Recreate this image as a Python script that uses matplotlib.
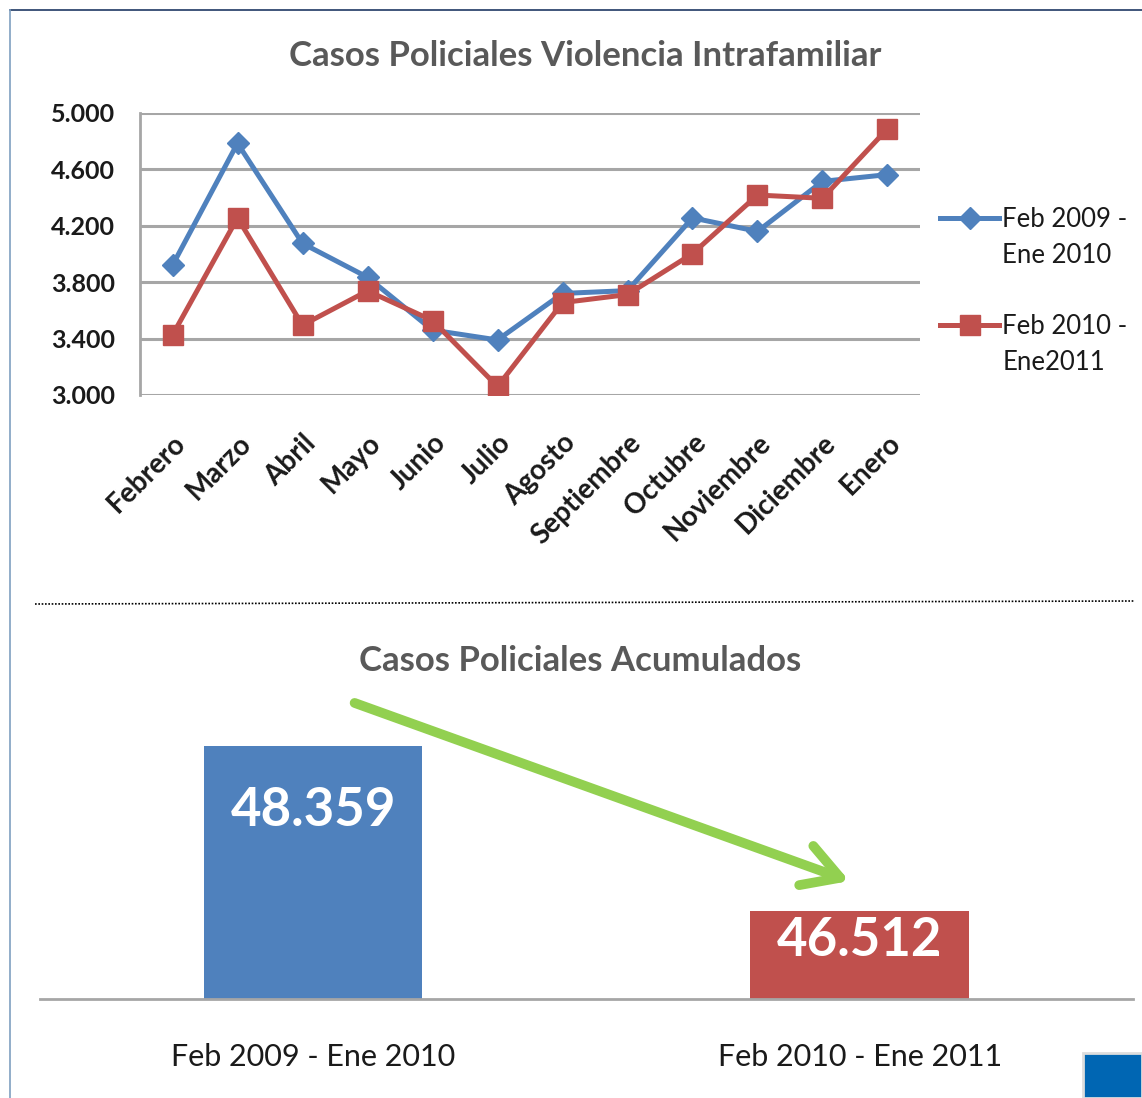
import matplotlib
matplotlib.use("Agg")
import matplotlib.pyplot as plt
from matplotlib.ticker import FuncFormatter
from matplotlib.lines import Line2D
from matplotlib.patches import Rectangle

plt.rcParams['font.family'] = ['Lato', 'DejaVu Sans']

# data
meses = ['Febrero', 'Marzo', 'Abril', 'Mayo', 'Junio', 'Julio', 'Agosto',
         'Septiembre', 'Octubre', 'Noviembre', 'Diciembre', 'Enero']
casos_0910 = [3920, 4785, 4075, 3835, 3460, 3390, 3720, 3740, 4256, 4160, 4515, 4563]
casos_1011 = [3425, 4256, 3495, 3738, 3528, 3060, 3655, 3712, 4002, 4418, 4395, 4888]
serie_labels = [['Feb 2009 -', 'Ene 2010'], ['Feb 2010 -', 'Ene2011']]

periodos = ['Feb 2009 - Ene 2010', 'Feb 2010 - Ene 2011']
acumulados = [48359, 46512]

blue = '#4F81BD'
red = '#C0504D'
grid_c = '#A6A6A6'
title_c = '#595959'

fig = plt.figure(figsize=(11.42, 10.98), dpi=100)

# ---- top chart
ax = fig.add_axes([0.1226, 0.6403, 0.683, 0.2568])
x = range(len(meses))
l1, = ax.plot(x, casos_0910, color=blue, lw=3.6, marker='D', ms=11)
l2, = ax.plot(x, casos_1011, color=red, lw=3.6, marker='s', ms=14)
ax.set_xlim(-0.5, len(meses) - 0.5)
ax.set_ylim(3000, 5000)
ax.set_yticks([3000, 3400, 3800, 4200, 4600, 5000])
ax.yaxis.set_major_formatter(FuncFormatter(lambda v, p: f'{int(v):,}'.replace(',', '.')))
ax.grid(axis='y', color=grid_c, lw=2.2)
ax.set_axisbelow(True)
for s in ['top', 'right', 'bottom']:
    ax.spines[s].set_visible(False)
ax.spines['left'].set_color(grid_c)
ax.spines['left'].set_linewidth(2)
ax.tick_params(length=0, labelsize=18, colors='#1a1a1a', pad=18)
ax.tick_params(axis='x', pad=25)
ax.set_xticks(list(x))
ax.set_xticklabels(meses, rotation=45, ha='right', rotation_mode='anchor',
                   fontweight='bold', fontsize=20)
for lab in ax.get_yticklabels():
    lab.set_fontweight('bold')

# legend: each two-line label split into rows so the handle sits on the first line
blank = Line2D([], [], color='none')
ax.legend([l1, blank, blank, l2, blank],
          [serie_labels[0][0], serie_labels[0][1], '', serie_labels[1][0], serie_labels[1][1]],
          loc='upper left', bbox_to_anchor=(940 / 1142, 1 - 207 / 1098),
          bbox_transform=fig.transFigure, frameon=False, handlelength=2.3,
          handletextpad=0.12, labelspacing=0.42, borderpad=0, borderaxespad=0,
          prop={'family': 'Lato', 'size': 18.5}, labelcolor='#1a1a1a')

fig.text(0.512, 0.949, 'Casos Policiales Violencia Intrafamiliar', ha='center', va='center',
         fontsize=25, fontweight='bold', color=title_c)

# ---- bottom chart
ax2 = fig.add_axes([0.035, 0.0902, 0.957, 0.2723])
ax2.bar(range(len(periodos)), acumulados, width=0.40, color=[blue, red])
ax2.set_xlim(-0.5, 1.5)
ax2.set_ylim(45527, 48873)
ax2.set_yticks([])
ax2.set_xticks(range(len(periodos)))
ax2.set_xticklabels(periodos, fontsize=22, color='#1a1a1a')
ax2.tick_params(axis='x', length=0, pad=32)
for s in ['top', 'right', 'left']:
    ax2.spines[s].set_visible(False)
ax2.spines['bottom'].set_color(grid_c)
ax2.spines['bottom'].set_linewidth(2)
offsets = [-720, -330]
for i, v in enumerate(acumulados):
    ax2.text(i, v + offsets[i], f'{v:,}'.replace(',', '.'), ha='center', va='center',
             color='white', fontsize=38, fontweight='bold')

fig.text(0.508, 0.398, 'Casos Policiales Acumulados', ha='center', va='center',
         fontsize=25, fontweight='bold', color=title_c)

# green trend arrow
ax2.annotate('', xy=(852 / 1142, 1 - 882 / 1098), xytext=(352 / 1142, 1 - 702 / 1098),
             xycoords='figure fraction', textcoords='figure fraction',
             arrowprops=dict(arrowstyle='->,head_length=2.6,head_width=1.5',
                             color='#92D050', lw=7))

# decorations: frame, separator, corner square
fig.add_artist(Line2D([10 / 1142, 1], [1 - 10 / 1098] * 2, color='#1F3864', lw=1.2))
fig.add_artist(Line2D([10 / 1142] * 2, [0, 1 - 10 / 1098], color='#7F9FC0', lw=1.2))
fig.add_artist(Line2D([35 / 1142, 1135 / 1142], [1 - 604 / 1098, 1 - 601 / 1098],
                      color='black', lw=1.2, ls=(0, (1, 1))))
fig.add_artist(Rectangle((1083 / 1142, 0), 59 / 1142, 45 / 1098, facecolor='#0066B3',
                         edgecolor='#DDDDDD', lw=2, transform=fig.transFigure))

fig.savefig('out.png', dpi=100)
